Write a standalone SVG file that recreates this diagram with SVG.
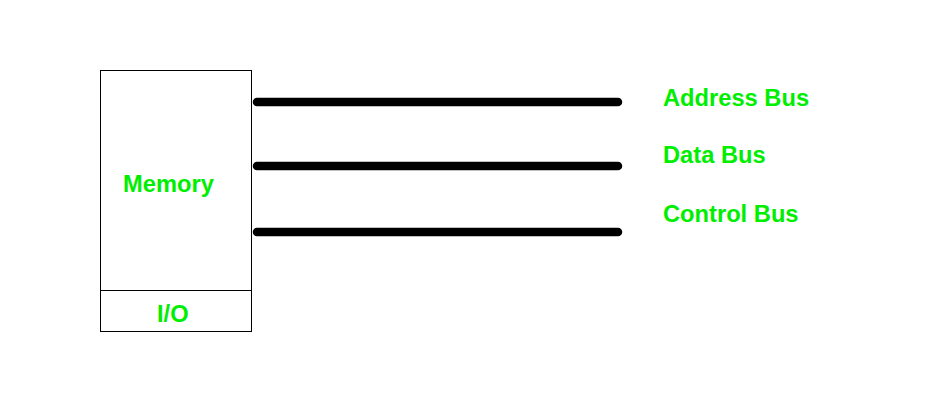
<svg xmlns="http://www.w3.org/2000/svg" width="937" height="403" viewBox="0 0 937 403">
<style>
.lbl{font-family:"Liberation Sans",Arial,sans-serif;font-weight:bold;font-size:23.7px;fill:#00ee00}
.box{fill:#fff;stroke:#000;stroke-width:1}
.bus{stroke:#000;stroke-width:8.5;stroke-linecap:round}
</style>
<rect width="937" height="403" fill="#fff"/>
<g id="memory">
<rect class="box" x="100.5" y="70.5" width="151" height="220"/>
<text class="lbl" x="123" y="192">Memory</text>
</g>
<g id="io">
<rect class="box" x="100.5" y="290.5" width="151" height="41"/>
<text class="lbl" x="157" y="322">I/O</text>
</g>
<g id="connectors">
<line class="bus" x1="257" y1="102" x2="618" y2="102"/>
<line class="bus" x1="257" y1="166" x2="618" y2="166"/>
<line class="bus" x1="257" y1="232" x2="618" y2="232"/>
</g>
<g id="labels">
<text class="lbl" x="663" y="106">Address Bus</text>
<text class="lbl" x="663" y="163">Data Bus</text>
<text class="lbl" x="663" y="222">Control Bus</text>
</g>
</svg>
